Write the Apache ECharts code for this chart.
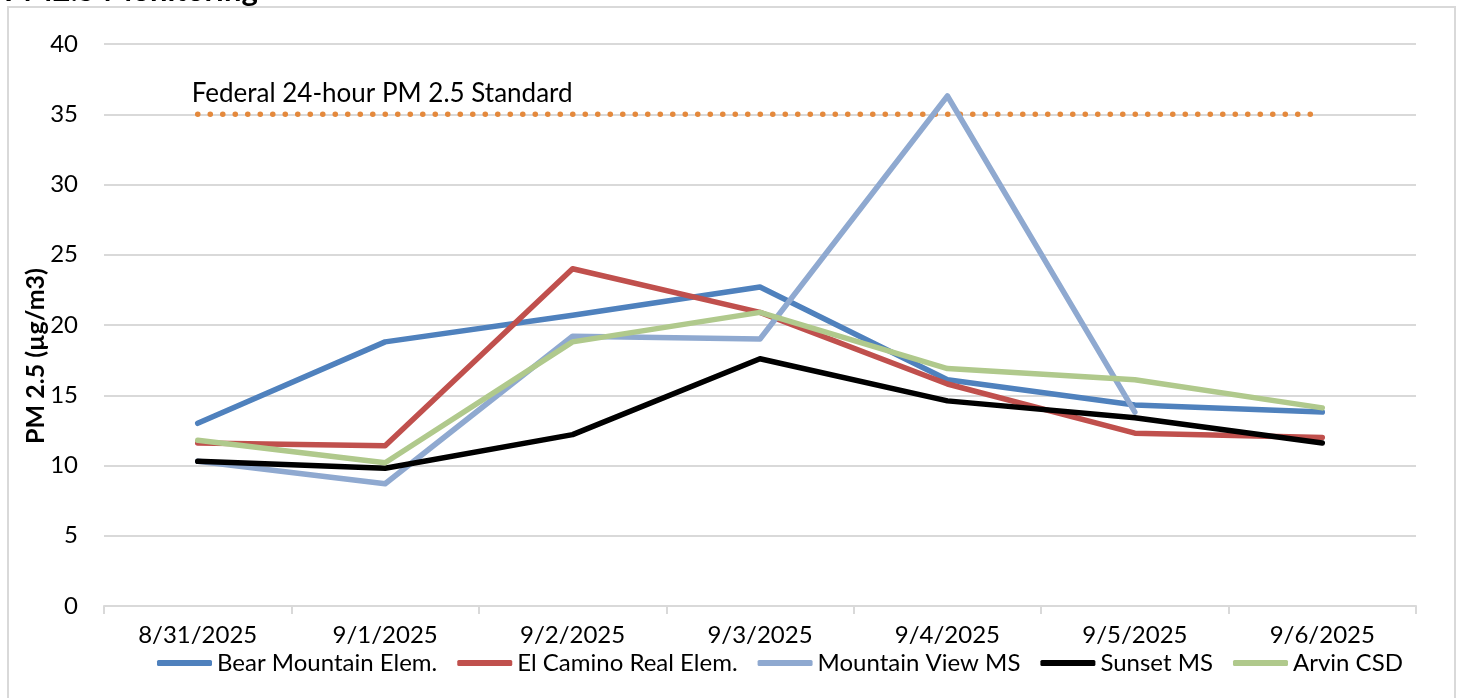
<!DOCTYPE html>
<html>
<head>
<meta charset="utf-8">
<script src="https://cdn.jsdelivr.net/npm/echarts@6/dist/echarts.min.js"></script>
<style>
  html, body { margin: 0; padding: 0; background: #fff; }
  #main { width: 1460px; height: 698px; }
</style>
</head>
<body>
<div id="main"></div>
<script>
var chart = echarts.init(document.getElementById('main'));

// dates on the x axis
var dates = ['8/31/2025', '9/1/2025', '9/2/2025', '9/3/2025', '9/4/2025', '9/5/2025', '9/6/2025'];

// PM 2.5 readings per site (ug/m3)
var bearMountain = [13.0, 18.8, 20.7, 22.7, 16.1, 14.3, 13.8];
var elCamino     = [11.6, 11.4, 24.0, 20.9, 15.8, 12.3, 12.0];
var mountainView = [10.3, 8.7, 19.2, 19.0, 36.3, 13.8, null];
var sunset       = [10.3, 9.8, 12.2, 17.6, 14.6, 13.4, 11.6];
var arvin        = [11.8, 10.2, 18.8, 20.9, 16.9, 16.1, 14.1];

// federal 24-hour standard
var standard = [35, 35, 35, 35, 35, 35, 35];
var standardLabel = 'Federal 24-hour PM 2.5 Standard';

var yTicks = { min: 0, max: 40, interval: 5 };

var FONT = 'Lato';

function site(name, data, color) {
    return {
        name: name,
        type: 'line',
        data: data,
        symbol: 'none',
        smooth: false,
        lineStyle: { color: color, width: 5.5, cap: 'round', join: 'round' },
        itemStyle: { color: color },
        animation: false
    };
}

var option = {
    backgroundColor: '#fff',
    textStyle: { fontFamily: FONT },
    grid: { left: 104, right: 44, top: 44, bottom: 92 },
    legend: {
        bottom: 18,
        left: 152,
        icon: 'roundRect',
        itemWidth: 55,
        itemHeight: 6,
        itemGap: 20,
        textStyle: { fontFamily: FONT, fontSize: 24, color: '#000' },
        data: ['Bear Mountain Elem.', 'El Camino Real Elem.', 'Mountain View MS', 'Sunset MS', 'Arvin CSD']
    },
    xAxis: {
        type: 'category',
        data: dates,
        boundaryGap: true,
        axisLine: { lineStyle: { color: '#D9D9D9', width: 2 } },
        axisTick: { show: true, length: 8, lineStyle: { color: '#D9D9D9', width: 2 } },
        axisLabel: { color: '#000', fontSize: 24, fontFamily: FONT, margin: 17 }
    },
    yAxis: {
        type: 'value',
        min: yTicks.min,
        max: yTicks.max,
        interval: yTicks.interval,
        axisLine: { show: false },
        axisTick: { show: false },
        axisLabel: { color: '#000', fontSize: 24, fontFamily: FONT, margin: 26 },
        splitLine: { lineStyle: { color: '#D9D9D9', width: 2 } }
    },
    series: [
        site('Bear Mountain Elem.', bearMountain, '#4F81BD'),
        site('El Camino Real Elem.', elCamino, '#C0504D'),
        site('Mountain View MS', mountainView, '#8FA9D0'),
        site('Sunset MS', sunset, '#000000'),
        site('Arvin CSD', arvin, '#B0C98C'),
        {
            name: 'Standard',
            type: 'line',
            data: standard,
            symbol: 'none',
            z: 1,
            lineStyle: { color: '#E4893C', width: 5.5, type: [0.1, 12.4], cap: 'round' },
            animation: false
        }
    ]
};
chart.setOption(option);

// place frame, title, axis name and the standard's text
var p0 = chart.convertToPixel({ seriesIndex: 5 }, [0, standard[0]]);
chart.setOption({
    graphic: [
        {
            type: 'rect',
            shape: { x: 8, y: 7, width: 1447, height: 720 },
            style: { fill: 'none', stroke: '#D9D9D9', lineWidth: 2 },
            silent: true
        },
        {
            type: 'text',
            x: 4, y: -9,
            style: {
                text: 'PM2.5 Monitoring',
                font: 'bold 31px ' + FONT,
                fill: '#000',
                verticalAlign: 'middle'
            }
        },
        {
            type: 'text',
            x: 36, y: 356,
            rotation: Math.PI / 2,
            style: {
                text: 'PM 2.5 (\u00b5g/m3)',
                font: 'bold 25px ' + FONT,
                fill: '#000',
                align: 'center',
                verticalAlign: 'middle'
            }
        },
        {
            type: 'text',
            x: p0[0] - 6, y: p0[1] - 21,
            style: {
                text: standardLabel,
                font: '26px ' + FONT,
                fill: '#000',
                align: 'left',
                verticalAlign: 'middle'
            }
        }
    ]
});
</script>
</body>
</html>
